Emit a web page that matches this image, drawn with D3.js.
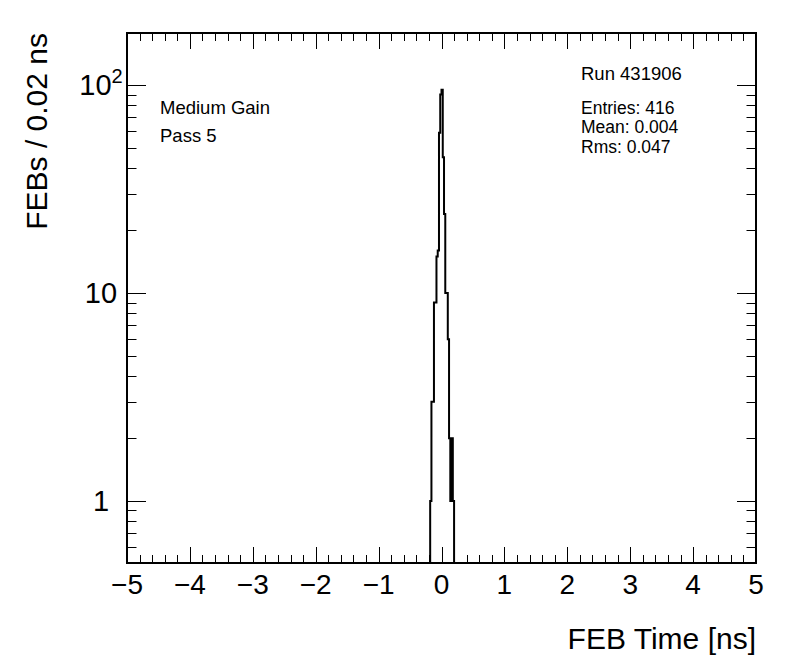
<!DOCTYPE html>
<html><head><meta charset="utf-8">
<script src="https://cdn.jsdelivr.net/npm/d3@7"></script>
<style>
body{margin:0;background:#fff;}
svg{display:block;font-family:"Liberation Sans",Arial,Helvetica,sans-serif;}
</style></head>
<body><svg id="c" width="796" height="672"></svg>
<script>
// ---- data ----
const binLeft = [-0.18,-0.16,-0.14,-0.12,-0.10,-0.08,-0.06,-0.04,-0.02,0.00,0.02,0.04,0.06,0.08,0.10,0.12,0.14,0.16,0.18];
const binCounts = [1,3,3,9,9,15,16,59,90,95,45,24,10,10,6,2,1,2,1];
const binWidth = 0.02;
const xTicks = [-5,-4,-3,-2,-1,0,1,2,3,4,5];
const yMajor = [1,10,100];
const yMajorLabels = ["1","10","10^2"];
const infoLeft = ["Medium Gain","Pass 5"];
const infoRun = "Run 431906";
const infoStats = ["Entries: 416","Mean: 0.004","Rms: 0.047"];

// ---- layout ----
const svg = d3.select("#c");
const L=127, R=756, T=33, B=563;
const x = d3.scaleLinear().domain([-5,5]).range([L,R]);
const y = d3.scaleLog().domain([0.503,178]).range([B,T]);

// minor ticks
const xMinor = d3.range(-5,5.0001,0.2).map(v=>+v.toFixed(2)).filter(v=>Math.abs(v-Math.round(v))>1e-6);
const yMinor = [];
[0.1,1,10,100].forEach(d=>{for(let k=2;k<=9;k++){const v=d*k; if(v>0.503&&v<178) yMinor.push(v);}});

const g = svg.append("g").attr("stroke","#000").attr("stroke-width",1).attr("fill","none");
xTicks.forEach(v=>{
  const px = Math.round(x(v))+0.5;
  g.append("line").attr("x1",px).attr("x2",px).attr("y1",B).attr("y2",B-16);
  g.append("line").attr("x1",px).attr("x2",px).attr("y1",T).attr("y2",T+16);
});
xMinor.forEach(v=>{
  const px = Math.round(x(v))+0.5;
  g.append("line").attr("x1",px).attr("x2",px).attr("y1",B).attr("y2",B-8);
  g.append("line").attr("x1",px).attr("x2",px).attr("y1",T).attr("y2",T+8);
});
yMajor.forEach(v=>{
  const py = Math.round(y(v))+0.5;
  g.append("line").attr("x1",L).attr("x2",L+19).attr("y1",py).attr("y2",py);
  g.append("line").attr("x1",R).attr("x2",R-19).attr("y1",py).attr("y2",py);
});
yMinor.forEach(v=>{
  const py = Math.round(y(v))+0.5;
  g.append("line").attr("x1",L).attr("x2",L+9.5).attr("y1",py).attr("y2",py);
  g.append("line").attr("x1",R).attr("x2",R-9.5).attr("y1",py).attr("y2",py);
});

// histogram outline (step)
const yb = v => v>0 ? Math.min(y(v),B) : B;
const pathPts = [[x(-5), B], [x(binLeft[0]), B]];
binLeft.forEach((lo,i)=>{
  pathPts.push([x(lo), yb(binCounts[i])]);
  pathPts.push([x(lo+binWidth), yb(binCounts[i])]);
});
const lastHi = binLeft[binLeft.length-1]+binWidth;
pathPts.push([x(lastHi), B]);
pathPts.push([x(5), B]);
svg.append("path").attr("d", d3.line()(pathPts))
  .attr("fill","none").attr("stroke","#000").attr("stroke-width",2);

// frame
svg.append("rect").attr("x",L).attr("y",T).attr("width",R-L).attr("height",B-T)
  .attr("fill","none").attr("stroke","#000").attr("stroke-width",2);

// x tick labels
svg.append("g").selectAll("text").data(xTicks).join("text")
  .attr("x",d=>x(d)).attr("y",594).attr("text-anchor","middle")
  .attr("font-size",28).attr("fill","#000")
  .text(d=>d<0?"\u2212"+Math.abs(d):String(d));

// y tick labels (centred)
yMajorLabels.forEach((lab,i)=>{
  const t = svg.append("text").attr("x",101).attr("y",y(yMajor[i])+10)
    .attr("text-anchor","middle").attr("font-size",29).attr("fill","#000");
  if(lab.includes("^")){
    const [b,e]=lab.split("^");
    t.append("tspan").text(b);
    t.append("tspan").attr("dy",-12).attr("font-size",20).text(e);
  } else t.text(lab);
});

// axis titles
svg.append("text").attr("x",756).attr("y",649).attr("text-anchor","end")
  .attr("font-size",30).attr("fill","#000").text("FEB Time [ns]");
svg.append("text").attr("transform","translate(47,33) rotate(-90)")
  .attr("text-anchor","end").attr("font-size",30).attr("fill","#000").text("FEBs / 0.02 ns");

// info text
infoLeft.forEach((s,i)=>svg.append("text").attr("x",160).attr("y",114+i*27.5)
  .attr("font-size",18.5).attr("fill","#000").text(s));
svg.append("text").attr("x",581).attr("y",80).attr("font-size",18.5).attr("fill","#000").text(infoRun);
infoStats.forEach((s,i)=>svg.append("text").attr("x",581).attr("y",113.5+i*19.5)
  .attr("font-size",17.5).attr("fill","#000").text(s));
</script></body></html>
